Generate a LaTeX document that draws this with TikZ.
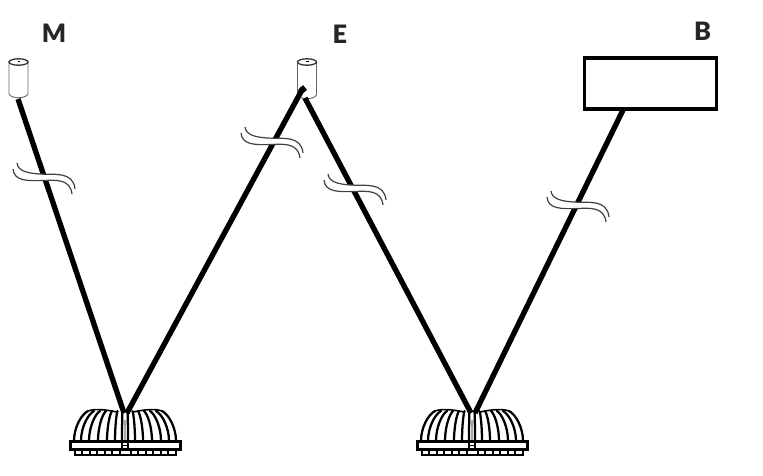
\documentclass[tikz,border=0pt]{standalone}
\usepackage{fontspec}
\newfontfamily\lblfont{Lato Black}
\tikzset{
  x=0.75pt,y=-0.75pt,
  wire/.style={line width=4pt,black},
  lbl/.style={font=\lblfont\fontsize{19}{19}\selectfont,inner sep=0pt,text=black!85},
  bx/.style={draw,line width=2.5pt,inner sep=0pt,fill=white},
  cyl/.style={draw=black!60,line width=0.7pt,fill=white},
  brk/.style={line width=0.9pt,black!75},
  rib/.style={line width=1.7pt,black,line cap=round},
  flange/.style={draw=black,line width=1.9pt,fill=white}
}
\newcommand{\cylinder}[3]{% cx, top y, bottom y
  \path[cyl] (#1-9.5,#2+4) -- (#1-9.5,#3-4) .. controls (#1-7,#3+1) and (#1+7,#3+1) .. (#1+9.5,#3-4) -- (#1+9.5,#2+4) -- cycle;
  \draw[cyl,line width=1pt,draw=black!80] (#1,#2+4) ellipse [x radius=9.5,y radius=3.2];
  \draw[line width=1pt] (#1-1,#2+3.5) -- (#1+1.5,#2+3.5);
}
\newcommand{\lamp}[2]{% cx, name
  \begin{scope}[shift={(#1,0)}]
    \foreach \b/\t in {51/37,44/31,36/25,27/19,18/13,10/7.5,3/2.5}{
      \pgfmathsetmacro{\cc}{\t+0.45*(\b-\t)}
      \draw[rib] (\b,441) .. controls (\b,427) and (\cc,414) .. (\t,411);
      \draw[rib] (-\b,441) .. controls (-\b,427) and (-\cc,414) .. (-\t,411);
    }
    \draw[rib,line width=1.2pt] (-37,411) .. controls (-30,408.5) and (-20,409.5) .. (-8,412) (8,412) .. controls (20,409.5) and (30,408.5) .. (37,411);
    \draw[black!35,line width=1pt] (0,441) -- (0,420);
    \draw[flange] (-54.5,441.5) rectangle (55.5,449.5);
    \draw[flange,line width=1.5pt] (-50,449.5) rectangle (51,454.5);
    \foreach \t in {-43,-35,-28,-20,-13,-5,6,13,21,28,36,43} \draw[line width=1.2pt] (\t,449.5) -- (\t,454.5);
    \draw[line width=1.3pt] (-3,441.5) -- (-3,449.5) (3,441.5) -- (3,449.5) (-3,445.5) -- (3,445.5);
    \coordinate (#2) at (0,412);
  \end{scope}
}
\newcommand{\breakmark}[2]{%
  \begin{scope}[shift={(#1,#2)}]
    \fill[white] (4,0) .. controls (5,8) and (14,10) .. (26,11) .. controls (42,12) and (60,8) .. (62,26) -- (59,31) .. controls (57,16) and (44,17) .. (30,17.5) .. controls (14,18) and (1,18) .. (0,6) -- cycle;
    \draw[brk] (4,0) .. controls (5,8) and (14,10) .. (26,11) .. controls (42,12) and (60,8) .. (62,26);
    \draw[brk] (0,6) .. controls (1,18) and (14,18) .. (30,17.5) .. controls (44,17) and (57,16) .. (59,31);
  \end{scope}
}
\begin{document}
\begin{tikzpicture}
\useasboundingbox (0,0) rectangle (763,475);
\node[lbl] (labM) at (54,33) {M};
\node[lbl] (labE) at (340,34) {E};
\node[lbl] (labB) at (702.5,31) {B};
\node[bx,minimum width=132.5*0.75pt,minimum height=51*0.75pt] (box) at (650.5,83.5) {};
\coordinate (mBot) at (18,99);
\coordinate (eLeft) at (303,88);
\coordinate (eBot) at (305,98);
\coordinate (boxFoot) at (623,110);
\coordinate (lampAa) at (124,413);
\coordinate (lampAb) at (127,413);
\coordinate (lampBa) at (471,413);
\coordinate (lampBb) at (475,413);
\cylinder{18.5}{58}{98}
\cylinder{307}{58}{99}
\lamp{125}{lampA}
\lamp{472}{lampB}
\draw[wire] (mBot) -- (lampAa);
\draw[wire] (eLeft) -- (lampAb);
\draw[wire] (eBot) -- (lampBa);
\draw[wire] (boxFoot) -- (lampBb);
\fill[black] (298,90) -- (303,85) -- (307,90) -- (302,94) -- cycle;
\breakmark{13}{163}
\breakmark{241}{127}
\breakmark{324}{174}
\breakmark{547}{191}
\end{tikzpicture}
\end{document}
